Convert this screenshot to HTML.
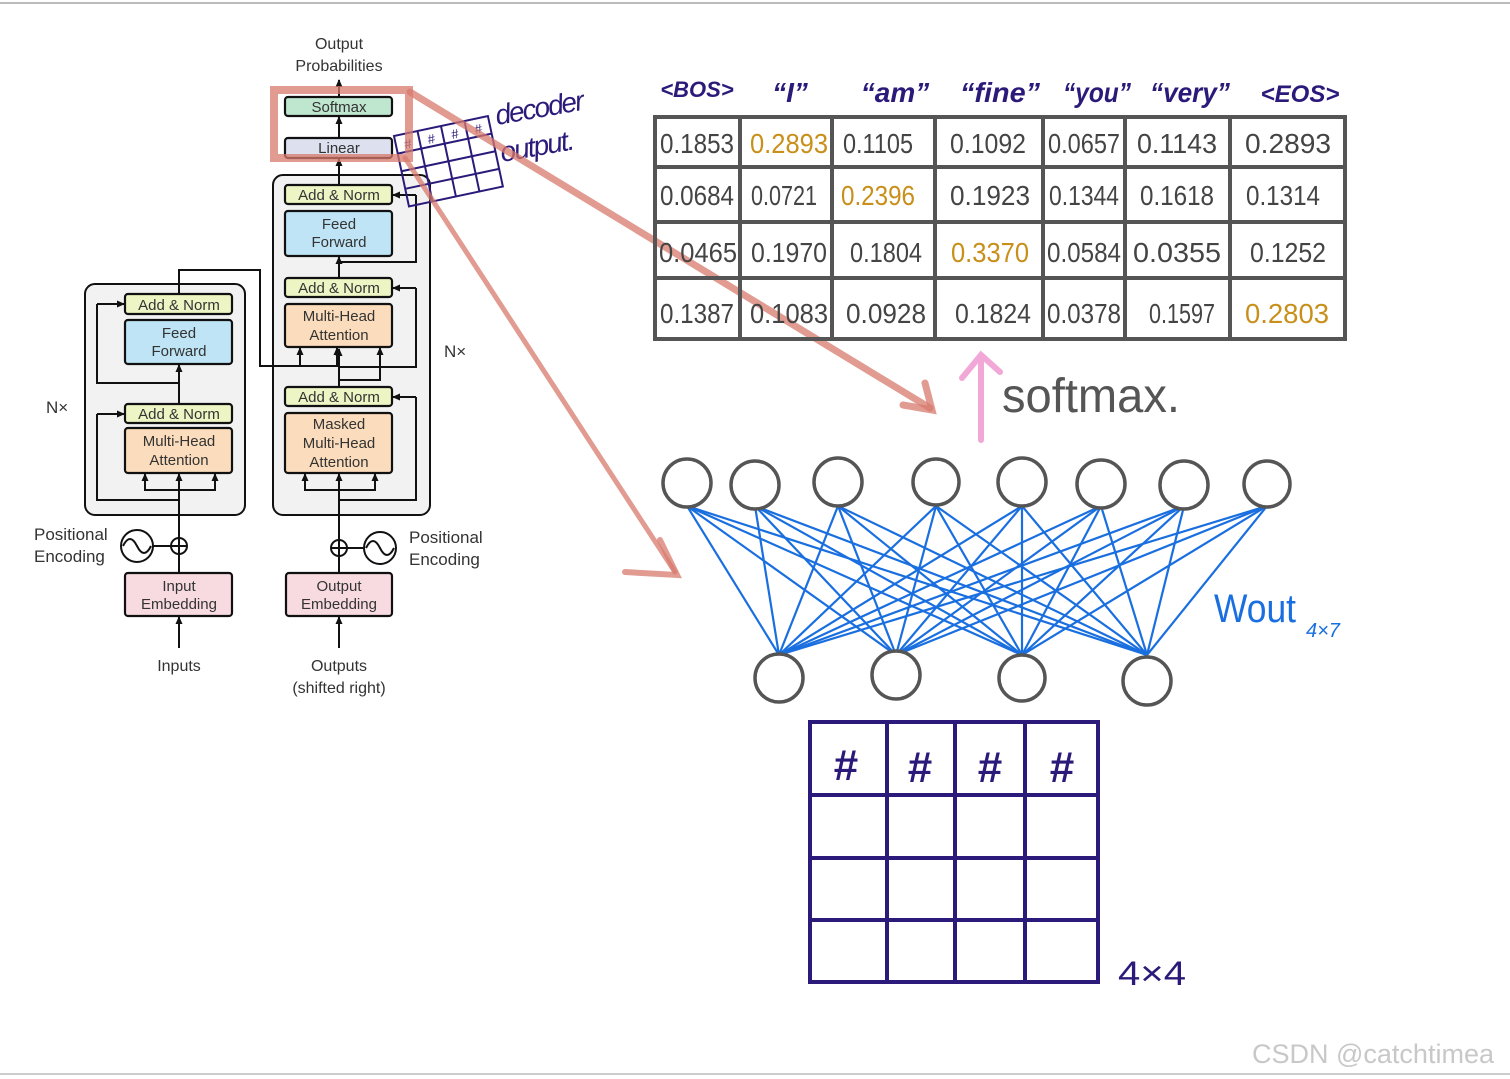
<!DOCTYPE html>
<html><head><meta charset="utf-8"><style>
html,body{margin:0;padding:0;background:#fff;}
svg{display:block;}
.t{font-family:"Liberation Sans",sans-serif;fill:#333;}
.h{font-family:"Liberation Sans",sans-serif;font-style:italic;}
</style></head><body>
<svg width="1510" height="1079" viewBox="0 0 1510 1079" xmlns="http://www.w3.org/2000/svg">
<defs>
<marker id="ar" markerUnits="userSpaceOnUse" markerWidth="8" markerHeight="8" refX="7" refY="4" orient="auto"><path d="M0,0.5 L8,4 L0,7.5 z" fill="#111"/></marker>
</defs>
<rect x="0" y="0" width="1510" height="1079" fill="#fff"/>
<line x1="0" y1="3" x2="1510" y2="3" stroke="#bbb" stroke-width="2"/>
<line x1="0" y1="1074" x2="1510" y2="1074" stroke="#ccc" stroke-width="2"/>

<!-- Transformer -->
<g stroke="#111" stroke-width="2" fill="none">
<rect x="85" y="284" width="160" height="231" rx="10" fill="#f2f2f2"/>
<rect x="273" y="175" width="157" height="340" rx="10" fill="#f2f2f2"/>
</g>
<!-- connectors (under boxes) -->
<g stroke="#111" stroke-width="2" fill="none">
<path d="M339,380 L339,367 L416,367 L416,288"/>
<path d="M339,270 L339,262 L416,262 L416,195"/>
<path d="M339,500 L416,500 L416,397"/>
<path d="M179,500 L97,500 L97,414"/>
<path d="M179,383 L97,383 L97,304"/>
<path d="M179,490 L145,490 L145,480"/>
<path d="M179,490 L215,490 L215,480"/>
<path d="M339,490 L305,490 L305,480"/>
<path d="M339,490 L375,490 L375,480"/>
<path d="M339,380 L380,380 L380,353"/>
<path d="M179,294 L179,270 L260,270 L260,366 L300,366 L300,353"/>
<path d="M260,366 L337,366 L337,353"/>
</g>
<g stroke="#111" stroke-width="2.2">
<rect x="285" y="97" width="107" height="19" rx="3" fill="#bfe6cf"/>
<rect x="285" y="138" width="107" height="20" rx="3" fill="#dde0ef"/>
<rect x="285" y="185" width="107" height="19" rx="3" fill="#eef5c4"/>
<rect x="285" y="211" width="107" height="45" rx="3" fill="#bfe4f5"/>
<rect x="285" y="278" width="107" height="19" rx="3" fill="#eef5c4"/>
<rect x="285" y="304" width="107" height="43" rx="3" fill="#fbdcbc"/>
<rect x="285" y="387" width="107" height="19" rx="3" fill="#eef5c4"/>
<rect x="285" y="413" width="107" height="60" rx="3" fill="#fbdcbc"/>
<rect x="286" y="573" width="106" height="43" rx="3" fill="#f8dbe1"/>
<rect x="125" y="294" width="107" height="20" rx="3" fill="#eef5c4"/>
<rect x="125" y="320" width="107" height="44" rx="3" fill="#bfe4f5"/>
<rect x="125" y="404" width="107" height="19" rx="3" fill="#eef5c4"/>
<rect x="125" y="428" width="107" height="45" rx="3" fill="#fbdcbc"/>
<rect x="125" y="573" width="107" height="43" rx="3" fill="#f8dbe1"/>
</g>
<g stroke="#111" stroke-width="2" fill="none" marker-end="url(#ar)">
<line x1="339" y1="97" x2="339" y2="80"/>
<line x1="339" y1="138" x2="339" y2="117"/>
<line x1="339" y1="185" x2="339" y2="159"/>
<line x1="339" y1="278" x2="339" y2="257"/>
<line x1="339" y1="387" x2="339" y2="349"/>
<line x1="339" y1="573" x2="339" y2="474"/>
<line x1="339" y1="648" x2="339" y2="617"/>
<line x1="179" y1="648" x2="179" y2="617"/>
<line x1="179" y1="573" x2="179" y2="474"/>
<line x1="179" y1="404" x2="179" y2="365"/>
<line x1="416" y1="288" x2="393" y2="288"/>
<line x1="416" y1="195" x2="393" y2="195"/>
<line x1="416" y1="397" x2="393" y2="397"/>
<line x1="97" y1="414" x2="124" y2="414"/>
<line x1="97" y1="304" x2="124" y2="304"/>
<line x1="145" y1="482" x2="145" y2="474"/>
<line x1="215" y1="482" x2="215" y2="474"/>
<line x1="305" y1="482" x2="305" y2="474"/>
<line x1="375" y1="482" x2="375" y2="474"/>
<line x1="380" y1="355" x2="380" y2="348"/>
<line x1="300" y1="355" x2="300" y2="348"/>
<line x1="337" y1="355" x2="337" y2="348"/>
</g>
<g stroke="#111" stroke-width="2" fill="none">
<circle cx="179" cy="546" r="8"/><line x1="171" y1="546" x2="187" y2="546"/><line x1="179" y1="538" x2="179" y2="554"/>
<circle cx="339" cy="548" r="8"/><line x1="331" y1="548" x2="347" y2="548"/><line x1="339" y1="540" x2="339" y2="556"/>
<circle cx="137" cy="546" r="16"/><path d="M123,546 q7,-14 14,0 t14,0"/>
<line x1="153" y1="546" x2="171" y2="546"/>
<circle cx="380" cy="548" r="16"/><path d="M366,548 q7,-14 14,0 t14,0"/>
<line x1="347" y1="548" x2="364" y2="548"/>
</g>
<g class="t" font-size="15" text-anchor="middle">
<text x="339" y="49" font-size="16">Output</text>
<text x="339" y="71" font-size="16">Probabilities</text>
<text x="339" y="112">Softmax</text>
<text x="339" y="153">Linear</text>
<text x="339" y="200">Add &amp; Norm</text>
<text x="339" y="229">Feed</text><text x="339" y="247">Forward</text>
<text x="339" y="293">Add &amp; Norm</text>
<text x="339" y="321">Multi-Head</text><text x="339" y="340">Attention</text>
<text x="339" y="402">Add &amp; Norm</text>
<text x="339" y="429">Masked</text><text x="339" y="448">Multi-Head</text><text x="339" y="467">Attention</text>
<text x="339" y="591">Output</text><text x="339" y="609">Embedding</text>
<text x="179" y="310">Add &amp; Norm</text>
<text x="179" y="338">Feed</text><text x="179" y="356">Forward</text>
<text x="179" y="419">Add &amp; Norm</text>
<text x="179" y="446">Multi-Head</text><text x="179" y="465">Attention</text>
<text x="179" y="591">Input</text><text x="179" y="609">Embedding</text>
<text x="179" y="671" font-size="16">Inputs</text>
<text x="339" y="671" font-size="16">Outputs</text>
<text x="339" y="693" font-size="16">(shifted right)</text>
</g>
<g class="t" font-size="17">
<text x="34" y="540">Positional</text><text x="34" y="562">Encoding</text>
<text x="409" y="543">Positional</text><text x="409" y="565">Encoding</text>
<text x="46" y="413">N×</text><text x="444" y="357">N×</text>
</g>

<!-- decoder output small grid -->
<g transform="translate(394,136) rotate(-12)" stroke="#2b1a7a" stroke-width="2" fill="none">
<rect x="0" y="0" width="96" height="72"/>
<line x1="24" y1="0" x2="24" y2="72"/><line x1="48" y1="0" x2="48" y2="72"/><line x1="72" y1="0" x2="72" y2="72"/>
<line x1="0" y1="18" x2="96" y2="18"/><line x1="0" y1="36" x2="96" y2="36"/><line x1="0" y1="54" x2="96" y2="54"/>
<g fill="#2b1a7a" stroke="none" font-size="13" font-family="Liberation Sans,sans-serif" text-anchor="middle"><text x="12" y="15">#</text><text x="36" y="15">#</text><text x="60" y="15">#</text><text x="84" y="15">#</text></g>
</g>
<g fill="#2b1a7a" font-size="28" class="h"><text x="497" y="125" transform="rotate(-10 497 125)" textLength="90">decoder</text><text x="502" y="162" transform="rotate(-10 502 162)" textLength="75">output.</text></g>

<!-- red highlight & arrows -->
<g stroke="#d77a6c" stroke-opacity="0.75" fill="none" stroke-linecap="round">
<rect x="274" y="90" width="135" height="68" stroke-width="8"/>
<line x1="410" y1="92" x2="930" y2="408" stroke-width="7"/>
<path d="M903,405 L932,410 L925,383" stroke-width="7"/>
<line x1="405" y1="158" x2="675" y2="572" stroke-width="5"/>
<path d="M625,572 L677,575 L660,540" stroke-width="6"/>
</g>

<!-- table -->
<g fill="#2b1a7a" font-size="28" class="h" font-weight="bold" text-anchor="middle">
<text x="697" y="97" font-size="22">&lt;BOS&gt;</text>
<text x="790" y="102">“I”</text>
<text x="895" y="102">“am”</text>
<text x="1000" y="102" textLength="80" lengthAdjust="spacingAndGlyphs">“fine”</text>
<text x="1097" y="102" textLength="68" lengthAdjust="spacingAndGlyphs">“you”</text>
<text x="1190" y="102" textLength="80" lengthAdjust="spacingAndGlyphs">“very”</text>
<text x="1300" y="102" font-size="24">&lt;EOS&gt;</text>
</g>
<g stroke="#555" stroke-width="4" fill="none">
<rect x="655" y="117" width="690" height="222"/>
<line x1="740" y1="117" x2="740" y2="339"/><line x1="832" y1="117" x2="832" y2="339"/>
<line x1="935" y1="117" x2="935" y2="339"/><line x1="1043" y1="117" x2="1043" y2="339"/>
<line x1="1125" y1="117" x2="1125" y2="339"/><line x1="1230" y1="117" x2="1230" y2="339"/>
<line x1="655" y1="167" x2="1345" y2="167"/><line x1="655" y1="222" x2="1345" y2="222"/><line x1="655" y1="278" x2="1345" y2="278"/>
</g>
<g font-family="Liberation Sans,sans-serif" font-size="28" fill="#444" text-anchor="middle" lengthAdjust="spacingAndGlyphs">
<text x="697" y="153" textLength="74" lengthAdjust="spacingAndGlyphs">0.1853</text><text x="789" y="153" fill="#c8901a" textLength="78" lengthAdjust="spacingAndGlyphs">0.2893</text><text x="878" y="153" textLength="70" lengthAdjust="spacingAndGlyphs">0.1105</text><text x="988" y="153" textLength="76" lengthAdjust="spacingAndGlyphs">0.1092</text><text x="1084" y="153" textLength="72" lengthAdjust="spacingAndGlyphs">0.0657</text><text x="1177" y="153" textLength="80" lengthAdjust="spacingAndGlyphs">0.1143</text><text x="1288" y="153" textLength="86" lengthAdjust="spacingAndGlyphs">0.2893</text>
<text x="697" y="205" textLength="74" lengthAdjust="spacingAndGlyphs">0.0684</text><text x="784" y="205" textLength="66" lengthAdjust="spacingAndGlyphs">0.0721</text><text x="878" y="205" fill="#c8901a" textLength="74" lengthAdjust="spacingAndGlyphs">0.2396</text><text x="990" y="205" textLength="80" lengthAdjust="spacingAndGlyphs">0.1923</text><text x="1084" y="205" textLength="70" lengthAdjust="spacingAndGlyphs">0.1344</text><text x="1177" y="205" textLength="74" lengthAdjust="spacingAndGlyphs">0.1618</text><text x="1283" y="205" textLength="74" lengthAdjust="spacingAndGlyphs">0.1314</text>
<text x="698" y="262" textLength="78" lengthAdjust="spacingAndGlyphs">0.0465</text><text x="789" y="262" textLength="76" lengthAdjust="spacingAndGlyphs">0.1970</text><text x="886" y="262" textLength="72" lengthAdjust="spacingAndGlyphs">0.1804</text><text x="990" y="262" fill="#c8901a" textLength="78" lengthAdjust="spacingAndGlyphs">0.3370</text><text x="1084" y="262" textLength="74" lengthAdjust="spacingAndGlyphs">0.0584</text><text x="1177" y="262" textLength="88" lengthAdjust="spacingAndGlyphs">0.0355</text><text x="1288" y="262" textLength="76" lengthAdjust="spacingAndGlyphs">0.1252</text>
<text x="697" y="323" textLength="74" lengthAdjust="spacingAndGlyphs">0.1387</text><text x="789" y="323" textLength="78" lengthAdjust="spacingAndGlyphs">0.1083</text><text x="886" y="323" textLength="80" lengthAdjust="spacingAndGlyphs">0.0928</text><text x="993" y="323" textLength="76" lengthAdjust="spacingAndGlyphs">0.1824</text><text x="1084" y="323" textLength="74" lengthAdjust="spacingAndGlyphs">0.0378</text><text x="1182" y="323" textLength="66" lengthAdjust="spacingAndGlyphs">0.1597</text><text x="1287" y="323" fill="#c8901a" textLength="84" lengthAdjust="spacingAndGlyphs">0.2803</text>
</g>

<!-- softmax arrow -->
<g stroke="#f2a8d6" stroke-width="6" fill="none" stroke-linecap="round">
<line x1="981" y1="440" x2="981" y2="357"/><path d="M962,378 L981,355 L1000,372"/>
</g>
<text x="1002" y="412" font-family="Liberation Sans,sans-serif" font-size="48" fill="#555" textLength="178" lengthAdjust="spacingAndGlyphs">softmax.</text>

<!-- network -->
<g stroke="#1a6fe0" stroke-width="2.2">
<line x1="687" y1="506" x2="779" y2="655"/><line x1="687" y1="506" x2="896" y2="655"/><line x1="687" y1="506" x2="1022" y2="655"/><line x1="687" y1="506" x2="1147" y2="655"/>
<line x1="755" y1="506" x2="779" y2="655"/><line x1="755" y1="506" x2="896" y2="655"/><line x1="755" y1="506" x2="1022" y2="655"/><line x1="755" y1="506" x2="1147" y2="655"/>
<line x1="838" y1="506" x2="779" y2="655"/><line x1="838" y1="506" x2="896" y2="655"/><line x1="838" y1="506" x2="1022" y2="655"/><line x1="838" y1="506" x2="1147" y2="655"/>
<line x1="936" y1="506" x2="779" y2="655"/><line x1="936" y1="506" x2="896" y2="655"/><line x1="936" y1="506" x2="1022" y2="655"/><line x1="936" y1="506" x2="1147" y2="655"/>
<line x1="1022" y1="506" x2="779" y2="655"/><line x1="1022" y1="506" x2="896" y2="655"/><line x1="1022" y1="506" x2="1022" y2="655"/><line x1="1022" y1="506" x2="1147" y2="655"/>
<line x1="1101" y1="506" x2="779" y2="655"/><line x1="1101" y1="506" x2="896" y2="655"/><line x1="1101" y1="506" x2="1022" y2="655"/><line x1="1101" y1="506" x2="1147" y2="655"/>
<line x1="1184" y1="506" x2="779" y2="655"/><line x1="1184" y1="506" x2="896" y2="655"/><line x1="1184" y1="506" x2="1022" y2="655"/><line x1="1184" y1="506" x2="1147" y2="655"/>
<line x1="1267" y1="506" x2="779" y2="655"/><line x1="1267" y1="506" x2="896" y2="655"/><line x1="1267" y1="506" x2="1022" y2="655"/><line x1="1267" y1="506" x2="1147" y2="655"/>
</g>
<g stroke="#555" stroke-width="3.5" fill="#fff">
<circle cx="687" cy="483" r="24"/><circle cx="755" cy="485" r="24"/><circle cx="838" cy="482" r="24"/><circle cx="936" cy="482" r="23"/>
<circle cx="1022" cy="482" r="24"/><circle cx="1101" cy="484" r="24"/><circle cx="1184" cy="485" r="24"/><circle cx="1267" cy="484" r="23"/>
<circle cx="779" cy="678" r="24"/><circle cx="896" cy="675" r="24"/><circle cx="1022" cy="678" r="23"/><circle cx="1147" cy="681" r="24"/>
</g>
<text x="1214" y="622" font-family="Liberation Sans,sans-serif" font-size="40" fill="#1a6fe0" textLength="82" lengthAdjust="spacingAndGlyphs">Wout</text>
<text x="1306" y="637" font-family="Liberation Sans,sans-serif" font-size="20" fill="#1a6fe0" font-style="italic">4×7</text>

<!-- 4x4 grid -->
<g stroke="#2b1a7a" stroke-width="4" fill="none">
<rect x="810" y="722" width="288" height="260"/>
<line x1="887" y1="722" x2="887" y2="982"/><line x1="955" y1="722" x2="955" y2="982"/><line x1="1025" y1="722" x2="1025" y2="982"/>
<line x1="810" y1="795" x2="1098" y2="795"/><line x1="810" y1="858" x2="1098" y2="858"/><line x1="810" y1="920" x2="1098" y2="920"/>
</g>
<g fill="#2b1a7a" font-family="Liberation Sans,sans-serif" font-size="44" font-weight="bold" text-anchor="middle">
<text x="846" y="780">#</text><text x="920" y="782">#</text><text x="990" y="782">#</text><text x="1062" y="782">#</text>
</g>
<text x="1118" y="985" font-family="Liberation Sans,sans-serif" font-size="34" fill="#2b1a7a" textLength="68" lengthAdjust="spacingAndGlyphs">4×4</text>

<text x="1252" y="1063" font-family="Liberation Sans,sans-serif" font-size="27" fill="#c8c8c8">CSDN @catchtimea</text>
</svg>
</body></html>
